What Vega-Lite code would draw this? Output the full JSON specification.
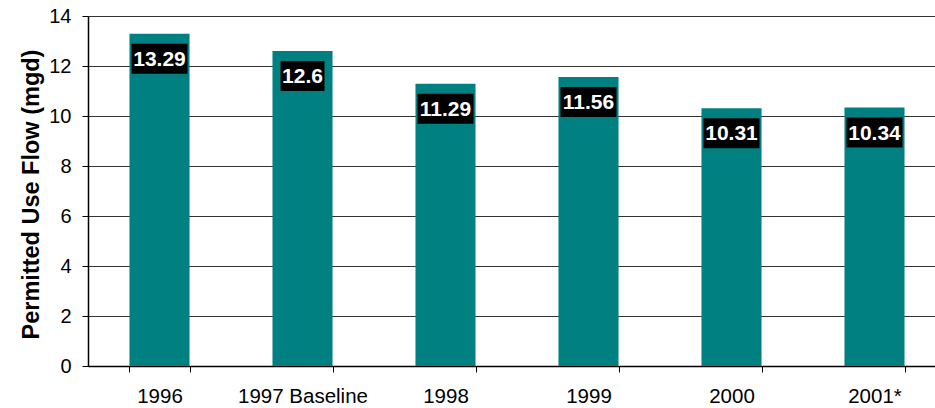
{
  "$schema": "https://vega.github.io/schema/vega-lite/v6.json",
  "autosize": {"type": "none"},
  "padding": {"left": 88, "top": 16, "right": 0, "bottom": 42},
  "width": 858,
  "height": 350,
  "background": "white",
  "config": {
    "view": {"stroke": null},
    "font": "Liberation Sans",
    "axis": {
      "labelFont": "Liberation Sans",
      "titleFont": "Liberation Sans",
      "labelColor": "black",
      "titleColor": "black",
      "domainColor": "black",
      "tickColor": "black",
      "domainWidth": 1.5,
      "tickWidth": 1,
      "tickSize": 6
    }
  },
  "data": {
    "values": [
      {"year": "1996", "flow": 13.29, "label": "13.29"},
      {"year": "1997 Baseline", "flow": 12.6, "label": "12.6"},
      {"year": "1998", "flow": 11.29, "label": "11.29"},
      {"year": "1999", "flow": 11.56, "label": "11.56"},
      {"year": "2000", "flow": 10.31, "label": "10.31"},
      {"year": "2001*", "flow": 10.34, "label": "10.34"}
    ]
  },
  "encoding": {
    "x": {
      "field": "year",
      "type": "nominal",
      "sort": null,
      "scale": {"paddingInner": 0.58, "paddingOuter": 0.29},
      "axis": {
        "title": null,
        "labelAngle": 0,
        "labelFontSize": 20.5,
        "labelPadding": 14,
        "tickBand": "extent",
        "grid": false
      }
    },
    "y": {
      "field": "flow",
      "type": "quantitative",
      "scale": {"domain": [0, 14], "nice": false},
      "axis": {
        "title": "Permitted Use Flow (mgd)",
        "titleFontSize": 23.5,
        "titleFontWeight": "bold",
        "titleAngle": -90,
        "titleAlign": "center",
        "titleBaseline": "alphabetic",
        "titleX": -50,
        "titleY": 178,
        "values": [0, 2, 4, 6, 8, 10, 12, 14],
        "labelFontSize": 20,
        "labelPadding": 11,
        "grid": true,
        "gridColor": "#333333",
        "gridWidth": 1
      }
    }
  },
  "layer": [
    {
      "mark": {"type": "bar", "color": "#008080"}
    },
    {
      "mark": {
        "type": "point",
        "filled": true,
        "fill": "black",
        "opacity": 1,
        "strokeWidth": 0,
        "size": 3600,
        "yOffset": 25
      },
      "encoding": {
        "shape": {
          "field": "year",
          "type": "nominal",
          "legend": null,
          "scale": {
            "domain": ["1996", "1997 Baseline", "1998", "1999", "2000", "2001*"],
            "range": [
              "M-0.933,-0.5L0.933,-0.5L0.933,0.5L-0.933,0.5Z",
              "M-0.733,-0.5L0.733,-0.5L0.733,0.5L-0.733,0.5Z",
              "M-0.933,-0.5L0.933,-0.5L0.933,0.5L-0.933,0.5Z",
              "M-0.933,-0.5L0.933,-0.5L0.933,0.5L-0.933,0.5Z",
              "M-0.933,-0.5L0.933,-0.5L0.933,0.5L-0.933,0.5Z",
              "M-0.933,-0.5L0.933,-0.5L0.933,0.5L-0.933,0.5Z"
            ]
          }
        }
      }
    },
    {
      "mark": {
        "type": "text",
        "color": "white",
        "font": "Liberation Sans",
        "fontWeight": "bold",
        "fontSize": 21,
        "baseline": "middle",
        "align": "center",
        "yOffset": 26
      },
      "encoding": {
        "text": {"field": "label", "type": "nominal"}
      }
    }
  ]
}
